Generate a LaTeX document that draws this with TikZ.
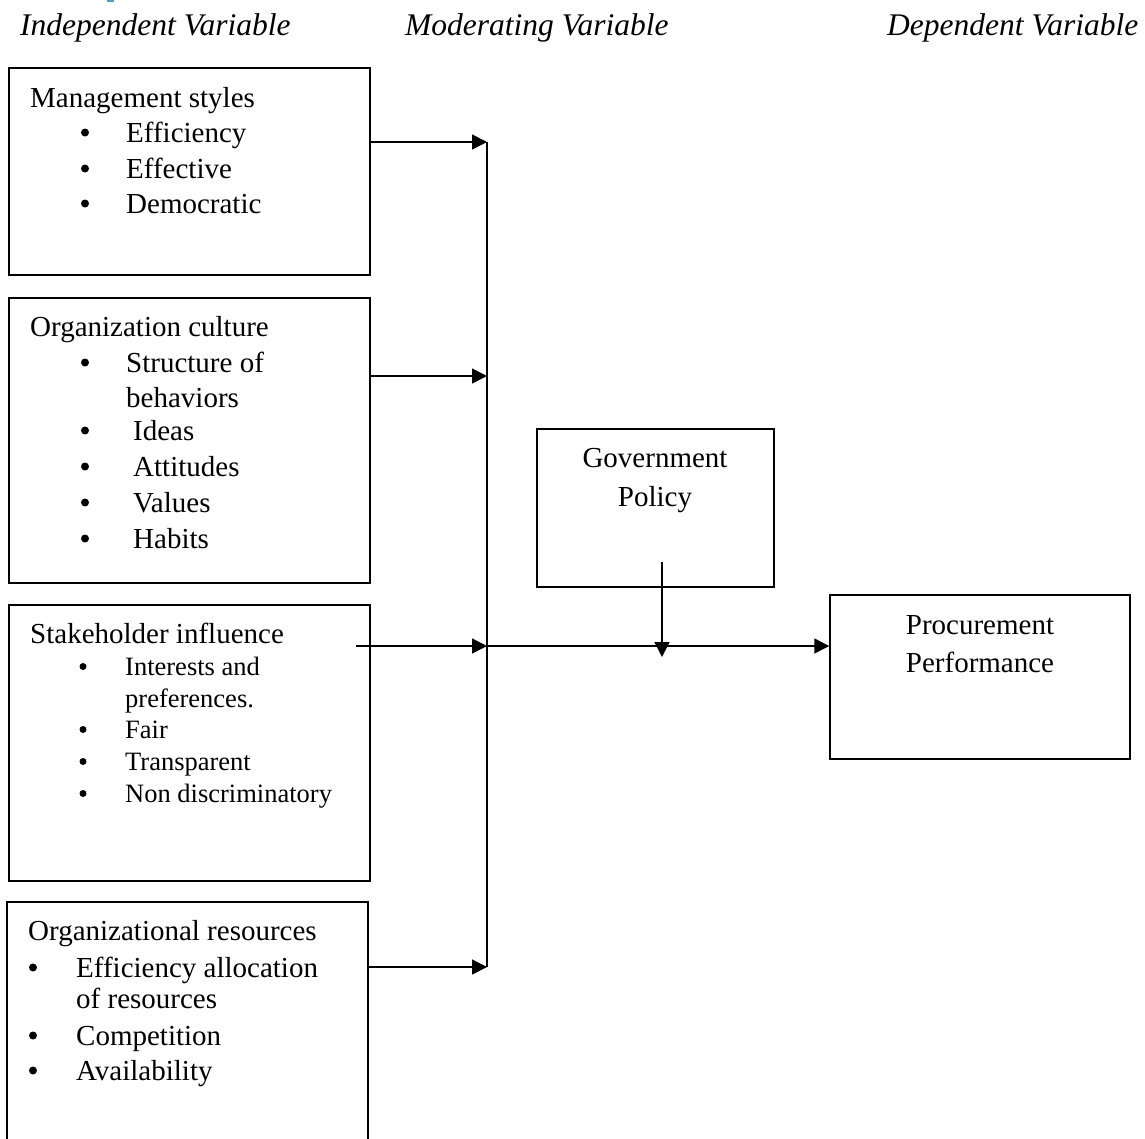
\documentclass[tikz,border=0pt]{standalone}
\usepackage{fontspec}
\setmainfont{Liberation Serif}
\usetikzlibrary{arrows.meta}
\usetikzlibrary{positioning}
\definecolor{headblue}{RGB}{79,155,222}

\tikzset{
  varbox/.style={draw,line width=1.5pt,inner sep=0pt},
  link/.style={line width=1.5pt},
  arr/.style={line width=1.5pt,-{Triangle[length=15pt,width=15pt]}},
  colhead/.style={font=\fontsize{31.5}{36}\selectfont\itshape,anchor=base west,inner sep=0pt},
  boxhead/.style={font=\fontsize{29}{35}\selectfont,anchor=base west,inner sep=0pt},
  boxitem/.style={font=\fontsize{29}{35}\selectfont,anchor=base west,inner sep=0pt},
  smallitem/.style={font=\fontsize{26.5}{32}\selectfont,anchor=base west,inner sep=0pt},
  midtext/.style={font=\fontsize{29}{35}\selectfont,anchor=base,inner sep=0pt},
  dot/.style={circle,fill,inner sep=0pt,minimum size=8pt},
  smalldot/.style={circle,fill,inner sep=0pt,minimum size=7pt}
}

\begin{document}
\begin{tikzpicture}[x=1pt,y=-1pt]
    \useasboundingbox (0,0) rectangle (1145,1138);
    \clip (0,0) rectangle (1145,1138);
    \fill[headblue] (107,0) rectangle (114,1.6);
    % column headings
    \node[colhead] (indep) at (20,35) {Independent Variable};
    \node[colhead] (moder) at (405,35) {Moderating Variable};
    \node[colhead] (dep) at (887,35) {Dependent Variable};
    % boxes
    \node[varbox,minimum width=361pt,minimum height=207pt] (mgmt) at (189.5,171.5) {};
    \node[varbox,minimum width=361pt,minimum height=285pt] (culture) at (189.5,440.5) {};
    \node[varbox,minimum width=361pt,minimum height=276pt] (stake) at (189.5,743) {};
    \node[varbox,minimum width=361pt,minimum height=258pt] (res) at (187.5,1031) {};
    \node[varbox,minimum width=237pt,minimum height=158pt] (gov) at (655.5,508) {};
    \node[varbox,minimum width=300pt,minimum height=164pt] (proc) at (980,677) {};
    % box texts
    \node[boxhead] at (30,107) {Management styles};
    \foreach \t/\y in {Efficiency/142, Effective/178, Democratic/213}{
      \node[dot] at (85,\y-9.5) {};
      \node[boxitem] at (126,\y) {\t};}
    \node[boxhead] at (30,336) {Organization culture};
    \foreach \t/\x/\y in {Structure of/126/372, Ideas/133/440, Attitudes/133/476,
                         Values/133/512, Habits/133/548}{
      \node[dot] at (85,\y-9.5) {};
      \node[boxitem] at (\x,\y) {\t};}
    \node[boxitem] at (126,407) {behaviors};
    \node[boxhead] at (30,643) {Stakeholder influence};
    \foreach \t/\y in {Interests and/675, Fair/738, Transparent/770, Non discriminatory/802}{
      \node[smalldot] at (83,\y-8.5) {};
      \node[smallitem] at (125,\y) {\t};}
    \node[smallitem] at (125,707) {preferences.};
    \node[boxhead] at (28,940) {Organizational resources};
    \foreach \t/\y in {Efficiency allocation/977, Competition/1045, Availability/1080}{
      \node[dot] at (33,\y-9.5) {};
      \node[boxitem] at (76,\y) {\t};}
    \node[boxitem] at (76,1008) {of resources};
    \node[midtext] at (655,467) {Government};
    \node[midtext] at (655,506) {Policy};
    \node[midtext] at (980,634) {Procurement};
    \node[midtext] at (980,672) {Performance};
    % connectors
    \coordinate (bustop) at (487,142);
    \coordinate (busbot) at (487,967);
    \coordinate (j2) at (487,376);
    \coordinate (j3) at (487,646);
    \coordinate (s3) at (356,646);
    \coordinate (g1) at (662,562);
    \coordinate (g2) at (662,657);
    \draw[link] (bustop) -- (busbot);
    \draw[arr] (mgmt.east |- bustop) -- (bustop);
    \draw[arr] (culture.east |- j2) -- (j2);
    \draw[arr] (s3) -- (j3);
    \draw[arr] (res.east |- busbot) -- (busbot);
    \draw[arr] (j3) -- (proc.west |- j3);
    \draw[arr] (g1) -- (g2);
  \end{tikzpicture}
\end{document}
